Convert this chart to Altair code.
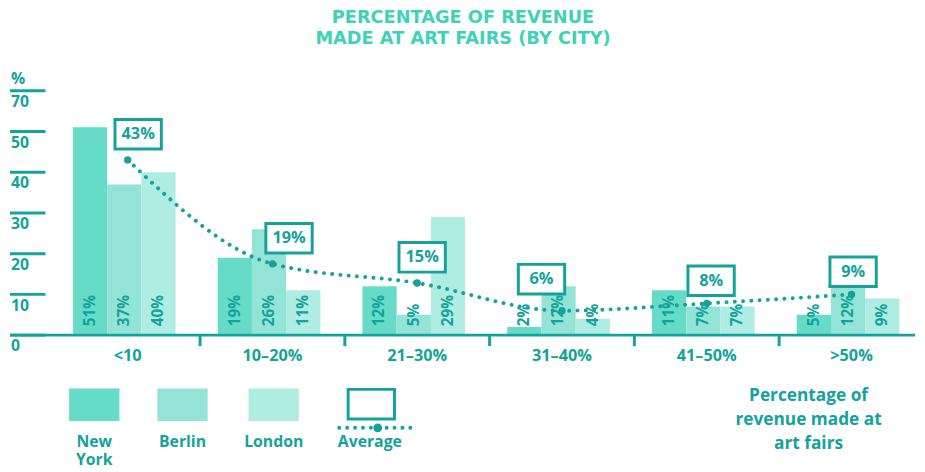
import altair as alt
import pandas as pd

# ---------------- data ----------------
categories = ["<10", "10–20%", "21–30%", "31–40%", "41–50%", ">50%"]
cities = ["New York", "Berlin", "London"]
new_york = [51, 19, 12, 2, 11, 5]
berlin = [37, 26, 5, 12, 7, 12]
london = [40, 11, 29, 4, 7, 9]
average_labels = [43, 19, 15, 6, 8, 9]
average_marker = [43, 17.5, 12.8, 6, 7.8, 10]
ytick_values = [0, 10, 20, 30, 40, 50, 60]
ytick_labels = ["0", "10", "20", "30", "40", "50", "70"]
title_lines = ["PERCENTAGE OF REVENUE", "MADE AT ART FAIRS (BY CITY)"]
side_note = ["Percentage of", "revenue made at", "art fairs"]

# ---------------- style ----------------
FONT = "Open Sans"
TITLE_FONT = "DejaVu Sans"
TEAL = "#13a39a"
TITLE_COLOR = "#3ed3b7"
city_colors = ["#66dbc8", "#93e3d6", "#afece1"]
city_shift = [-38.2, -3.5, 31.2]   # pixel offset of each city's bar inside a group
BAR_W = 34.7
# pixel nudges of each average call-out box (x, y) relative to its marker
box_nudge = [(10.6, -26), (16.8, -26), (5, -26), (-20.8, -32), (4.4, -23), (1.6, -23)]
W, H = 917, 281

series_all = [new_york, berlin, london]
city_frames = []
for series_name, series in zip(cities, series_all):
    city_frames.append(pd.DataFrame({
        "cat": categories, "city": series_name, "value": series,
        "label": [f"{v}%" for v in series],
    }))

avg = pd.DataFrame({
    "cat": categories,
    "marker": average_marker,
    "label": [f"{v}%" for v in average_labels],
})
ticks_df = pd.DataFrame({"v": ytick_values, "label": ytick_labels})
sep_df = pd.DataFrame({"cat": categories[1:]})

xscale = alt.Scale(domain=categories, range=[45, 926], paddingInner=0, paddingOuter=0)
xaxis = alt.Axis(title=None, domain=False, ticks=False, grid=False, labelAngle=0,
                 labelPadding=13, labelFont=FONT, labelFontSize=16.5, labelFontWeight="bold",
                 labelColor=TEAL)
X = alt.X("cat:N", sort=categories, scale=xscale, axis=xaxis)
yscale = alt.Scale(domain=[0, 68], nice=False, zero=True)


def ydat(v):
    return alt.YDatum(v, scale=yscale, axis=None)


layers = []
for frame, col, shift in zip(city_frames, city_colors, city_shift):
    layers.append(
        alt.Chart(frame).mark_bar(width=BAR_W, xOffset=shift, color=col).encode(
            x=X, y=alt.Y("value:Q", scale=yscale, axis=None)
        )
    )

layers.append(alt.Chart(ticks_df.head(1)).mark_rule(strokeWidth=3, color=TEAL).encode(
    y=ydat(0), x=alt.value(-1), x2=alt.value(W)
))
layers.append(alt.Chart(sep_df).mark_rule(strokeWidth=3, color=TEAL).encode(
    x=alt.X("cat:N", sort=categories, scale=xscale, axis=xaxis, bandPosition=0),
    y=ydat(0), y2=alt.Y2Datum(-2.7),
))
layers.append(alt.Chart(ticks_df).mark_rule(strokeWidth=3, color=TEAL).encode(
    y=alt.Y("v:Q", scale=yscale, axis=None), x=alt.value(-1), x2=alt.value(35)
))
layers.append(alt.Chart(ticks_df).mark_text(
    align="left", baseline="middle", dy=11.5, font=FONT, fontSize=16, fontWeight="bold", color=TEAL
).encode(y=alt.Y("v:Q", scale=yscale, axis=None), x=alt.value(0), text="label:N"))
layers.append(alt.Chart(ticks_df.head(1)).mark_text(
    align="left", baseline="middle", dy=-12, font=FONT, fontSize=16, fontWeight="bold",
    color=TEAL, text="%"
).encode(y=ydat(max(ytick_values)), x=alt.value(0)))

layers.append(alt.Chart(avg).mark_line(
    interpolate="monotone", strokeDash=[0.01, 8.4], strokeCap="round", strokeWidth=4, color=TEAL
).encode(x=X, y=alt.Y("marker:Q", scale=yscale, axis=None)))

for frame, shift in zip(city_frames, city_shift):
    layers.append(alt.Chart(frame).mark_text(
        angle=270, align="left", baseline="middle", dx=9, xOffset=shift, font=FONT, fontSize=15.5,
        fontWeight="bold", color=TEAL
    ).encode(x=X, y=ydat(0), text="label:N"))

layers.append(alt.Chart(avg).mark_circle(size=55, color=TEAL, opacity=1).encode(
    x=X, y=alt.Y("marker:Q", scale=yscale, axis=None)
))
box_path = "M-1,-0.638H1V0.638H-1Z"
for i, (bx, by) in enumerate(box_nudge):
    one_avg = avg.iloc[[i]]
    layers.append(alt.Chart(one_avg).mark_point(
        shape=box_path, size=47 ** 2, fill="white", stroke=TEAL, strokeWidth=3,
        opacity=1, fillOpacity=1, yOffset=by, xOffset=bx
    ).encode(x=X, y=alt.Y("marker:Q", scale=yscale, axis=None)))
    layers.append(alt.Chart(one_avg).mark_text(
        font=FONT, fontSize=16.5, fontWeight="bold", color=TEAL, baseline="middle",
        yOffset=by, xOffset=bx
    ).encode(x=X, y=alt.Y("marker:Q", scale=yscale, axis=None), text="label:N"))

# ---------------- legend (layout positions in plot pixels) ----------------
one = pd.DataFrame({"k": [0]})
sq_path = "M-1,-0.647H1V0.647H-1Z"
legend_x = [84.5, 174, 266.5]
for name, col, lx in zip(cities, city_colors, legend_x):
    layers.append(
        alt.Chart(one).mark_point(shape=sq_path, size=51 ** 2, filled=True, color=col, opacity=1)
        .encode(x=alt.value(lx), y=alt.value(351.5))
    )
    for i, part in enumerate(name.split(" ")):
        layers.append(
            alt.Chart(one).mark_text(text=part, font=FONT, fontSize=16, fontWeight="bold",
                                     color=TEAL, baseline="top")
            .encode(x=alt.value(lx), y=alt.value(381 + 19 * i))
        )
layers.append(
    alt.Chart(one).mark_point(shape=box_path, size=47 ** 2, fill="white", stroke=TEAL,
                              strokeWidth=3, opacity=1, fillOpacity=1)
    .encode(x=alt.value(365.5), y=alt.value(351))
)
layers.append(
    alt.Chart(one).mark_rule(strokeDash=[0.01, 8], strokeCap="round", strokeWidth=4, color=TEAL)
    .encode(x=alt.value(333), x2=alt.value(408), y=alt.value(375))
)
layers.append(
    alt.Chart(one).mark_circle(size=80, color=TEAL, opacity=1)
    .encode(x=alt.value(372), y=alt.value(375))
)
layers.append(
    alt.Chart(one).mark_text(text="Average", font=FONT, fontSize=16, fontWeight="bold", color=TEAL,
                             baseline="top")
    .encode(x=alt.value(364), y=alt.value(381))
)
for i, line in enumerate(side_note):
    layers.append(
        alt.Chart(one).mark_text(text=line, font=FONT, fontSize=17.5, fontWeight="bold", color=TEAL,
                                 baseline="middle")
        .encode(x=alt.value(809), y=alt.value(343 + 24 * i))
    )

chart = alt.layer(*layers).properties(
    width=W, height=H,
    padding={"left": 0, "top": -2.5, "right": 0, "bottom": 0},
    title=alt.TitleParams(text=title_lines, anchor="middle", font=TITLE_FONT, fontSize=18,
                          fontWeight="bold", color=TITLE_COLOR, lineHeight=21.5, offset=7,
                          dy=-3),
).configure_view(stroke=None)

chart.save("out.html", embed_options={"renderer": "svg", "actions": False})
